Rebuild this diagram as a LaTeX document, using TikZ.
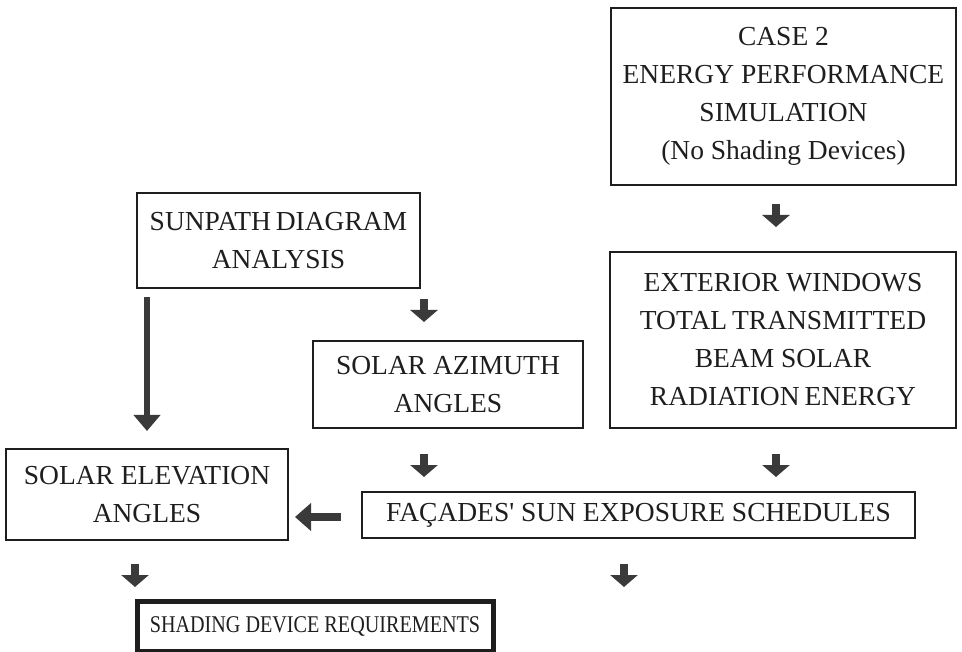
\documentclass[tikz,border=0pt]{standalone}
\usepackage{graphicx}
\usepackage{fontspec}
\setmainfont{Liberation Serif}
\usetikzlibrary{arrows.meta}
\definecolor{ink}{HTML}{1E1E1E}
\definecolor{arrowgray}{HTML}{3A3A3A}
% typewriter apostrophe, set as a glyph so the TeX mapping leaves it straight
\newcommand{\straightquote}{\XeTeXglyph\XeTeXcharglyph"0027\relax}
\tikzset{
  box/.style={draw=ink, line width=1.3pt, inner sep=0pt, align=center,
    font=\fontsize{27.5}{38}\selectfont, text=ink},
  keybox/.style={box, line width=5pt, font=\fontsize{24}{28}\selectfont},
  blockarrow/.style={draw=arrowgray, line width=8.5pt,
    -{Triangle[width=27pt,length=12pt,fill=arrowgray]}},
  longarrow/.style={draw=arrowgray, line width=6pt,
    -{Triangle[width=26pt,length=16pt,fill=arrowgray]}},
  sidearrow/.style={draw=arrowgray, line width=8.5pt,
    -{Triangle[width=27pt,length=16pt,fill=arrowgray]}}
}
\begin{document}
\begin{tikzpicture}[x=1pt,y=-1pt]
  \useasboundingbox (0,0) rectangle (962,652);

  % process boxes
  \node[box, minimum width=345pt, minimum height=177pt] (case) at (783.5,96.5)
    {CASE 2\\ENERGY PERFORMANCE\\SIMULATION\\(No Shading Devices)};
  \node[box, minimum width=283pt, minimum height=95pt] (sunpath) at (278.5,240.5)
    {SUNPATH\hspace{-2pt} DIAGRAM\\ANALYSIS};
  \node[box, minimum width=346pt, minimum height=176pt] (windows) at (783,340)
    {EXTERIOR WINDOWS\\TOTAL\hspace{-2pt} TRANSMITTED\\BEAM SOLAR\\RADIATION\hspace{-2pt} ENERGY};
  \node[box, minimum width=270pt, minimum height=87pt] (azimuth) at (448,384.5)
    {SOLAR AZIMUTH\\ANGLES};
  \node[box, minimum width=282pt, minimum height=91pt] (elevation) at (147,494.5)
    {SOLAR ELEVATION\\ANGLES};
  \node[box, minimum width=553pt, minimum height=46pt] (facades) at (638.5,515)
    {FAÇADES\straightquote{} SUN EXPOSURE SCHEDULES};
  \node[keybox, minimum width=356pt, minimum height=50pt] (shading) at (315,626)
    {\scalebox{0.84}[1]{SHADING DEVICE REQUIREMENTS}};

  % arrow end points between the boxes
  \coordinate (c1a) at (776,204);   \coordinate (c1b) at (776,227);
  \coordinate (c2a) at (424,299);   \coordinate (c2b) at (424,322);
  \coordinate (c3a) at (424,454);   \coordinate (c3b) at (424,477);
  \coordinate (c4a) at (776,454);   \coordinate (c4b) at (776,477);
  \coordinate (c5a) at (135,564);   \coordinate (c5b) at (135,587);
  \coordinate (c6a) at (624,564);   \coordinate (c6b) at (624,587);
  \coordinate (l1a) at (147,297);   \coordinate (l1b) at (147,431);
  \coordinate (s1a) at (341,517);   \coordinate (s1b) at (295,517);

  % flow arrows
  \draw[blockarrow] (c1a) -- (c1b);
  \draw[blockarrow] (c2a) -- (c2b);
  \draw[blockarrow] (c3a) -- (c3b);
  \draw[blockarrow] (c4a) -- (c4b);
  \draw[blockarrow] (c5a) -- (c5b);
  \draw[blockarrow] (c6a) -- (c6b);
  \draw[longarrow] (l1a) -- (l1b);
  \draw[sidearrow] (s1a) -- (s1b);
\end{tikzpicture}
\end{document}
